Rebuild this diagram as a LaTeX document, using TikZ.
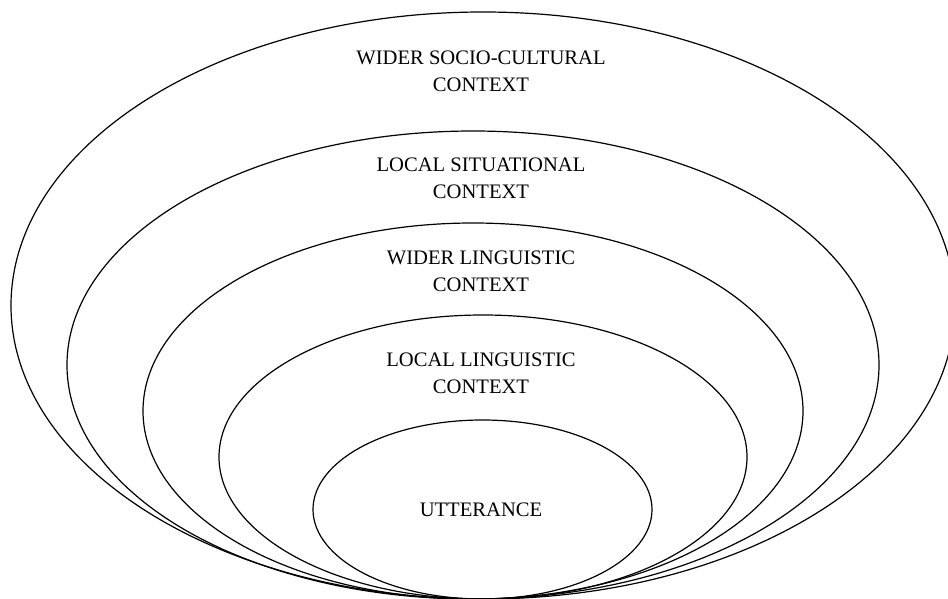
\documentclass[tikz,border=0pt]{standalone}
\usepackage{fontspec}
\setmainfont{Liberation Serif}
\usetikzlibrary{shapes.geometric}
\tikzset{
  ring/.style={ellipse, draw=black, line width=1.2pt, inner sep=0pt, fill=none},
  lbl/.style={align=center, font=\fontsize{20.6}{27}\selectfont, text=black, inner sep=0pt}
}
\begin{document}
\begin{tikzpicture}[x=1pt,y=-1pt]
\useasboundingbox (0,0) rectangle (948,599);
% nested ellipses (centre x, centre y, width, height in px)
\node[ring, minimum width=944pt, minimum height=587pt] (e1) at (483,305.5) {};
\node[ring, minimum width=812pt, minimum height=468pt] (e2) at (473,365) {};
\node[ring, minimum width=660pt, minimum height=376pt] (e3) at (473,411) {};
\node[ring, minimum width=528pt, minimum height=284pt] (e4) at (483,457) {};
\node[ring, minimum width=339pt, minimum height=179pt] (e5) at (482.5,509.5) {};
% labels
\node[lbl] (t1) at (481,71.5) {WIDER SOCIO-CULTURAL\\CONTEXT};
\node[lbl] (t2) at (481,178) {LOCAL SITUATIONAL\\CONTEXT};
\node[lbl] (t3) at (481,271) {WIDER LINGUISTIC\\CONTEXT};
\node[lbl] (t4) at (481,373) {LOCAL LINGUISTIC\\CONTEXT};
\node[lbl] (t5) at (481,510) {UTTERANCE};
\end{tikzpicture}
\end{document}
